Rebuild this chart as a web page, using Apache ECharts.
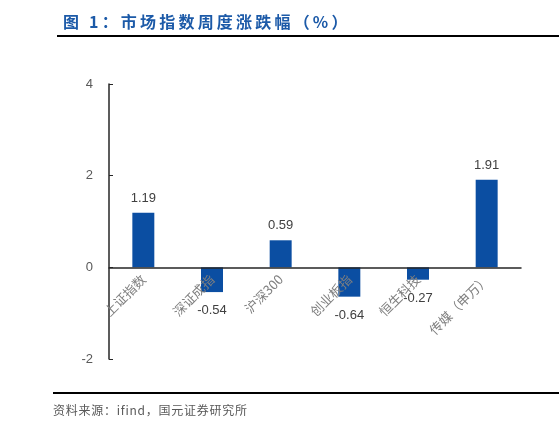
<!DOCTYPE html>
<html>
<head>
<meta charset="UTF-8">
<title>市场指数周度涨跌幅</title>
<script type="text/javascript" src="https://cdn.jsdelivr.net/npm/echarts@6/dist/echarts.min.js"></script>
<style>
  html, body { margin: 0; padding: 0; background: #fff; }
</style>
</head>
<body>
	<div id="main" style="height:429px;width:559px"></div>
<script type="text/javascript">
var categories = ['上证指数', '深证成指', '沪深300', '创业板指', '恒生科技', '传媒（申万）'];
var values = [1.19, -0.54, 0.59, -0.64, -0.27, 1.91];
var yTicks = [-2, 0, 2, 4];

var myChart = echarts.init(document.getElementById('main'));

// 正值标签在上，负值标签在下
var barData = values.map(function (v) {
  return {
    value: v,
    label: { position: v >= 0 ? 'top' : 'bottom', distance: v >= 0 ? 8 : 12 }
  };
});

// 标题字间距稍宽
var titleText = '图 1：市场指数周度涨跌幅（%）'.split('').join('\u2009');

var option = {
  animation: false,
  backgroundColor: '#fff',
  title: {
    text: titleText,
    left: 58,
    top: 9,
    textStyle: {
      color: '#1c5aa8',
      fontSize: 16,
      fontWeight: 'bold',
      fontFamily: 'Noto Sans CJK SC'
    }
  },
  graphic: [
    { type: 'line', shape: { x1: 57, y1: 36, x2: 559, y2: 36 }, style: { stroke: '#000', lineWidth: 2 } },
    { type: 'line', shape: { x1: 53, y1: 393, x2: 559, y2: 393 }, style: { stroke: '#000', lineWidth: 2 } },
    {
      type: 'text', left: 53, top: 404,
      style: { text: '资料来源：ifind，国元证券研究所'.split('').join('\u200a'), fill: '#595959', font: '12px "Noto Sans CJK SC"' }
    }
  ],
  grid: { left: 109, right: 38, top: 84, bottom: 70 },
  xAxis: {
    type: 'category',
    data: categories,
    z: 5,
    axisLine: { onZero: true, lineStyle: { color: '#262626', width: 1.5 } },
    axisTick: { inside: true, length: 4, lineStyle: { color: '#262626' } },
    axisLabel: {
      rotate: 45,
      margin: -82,
      color: '#7f7f7f',
      fontSize: 13,
      fontFamily: 'Noto Sans CJK SC',
      interval: 0
    }
  },
  yAxis: {
    type: 'value',
    min: yTicks[0],
    max: yTicks[yTicks.length - 1],
    interval: 2,
    axisLine: { show: true, lineStyle: { color: '#262626', width: 1.5 } },
    axisTick: { show: true, inside: true, length: 4, lineStyle: { color: '#262626' } },
    splitLine: { show: false },
    axisLabel: {
      color: '#595959',
      fontSize: 13,
      margin: 16,
      fontFamily: 'Liberation Sans'
    }
  },
  series: [
    {
      type: 'bar',
      data: barData,
      barWidth: '32%',
      itemStyle: { color: '#0b4ea2' },
      label: {
        show: true,
        color: '#404040',
        fontSize: 13,
        fontFamily: 'Liberation Sans',
        formatter: function (p) { return p.value.toFixed(2); }
      }
    }
  ]
};

myChart.setOption(option);
</script>
</body>
</html>
